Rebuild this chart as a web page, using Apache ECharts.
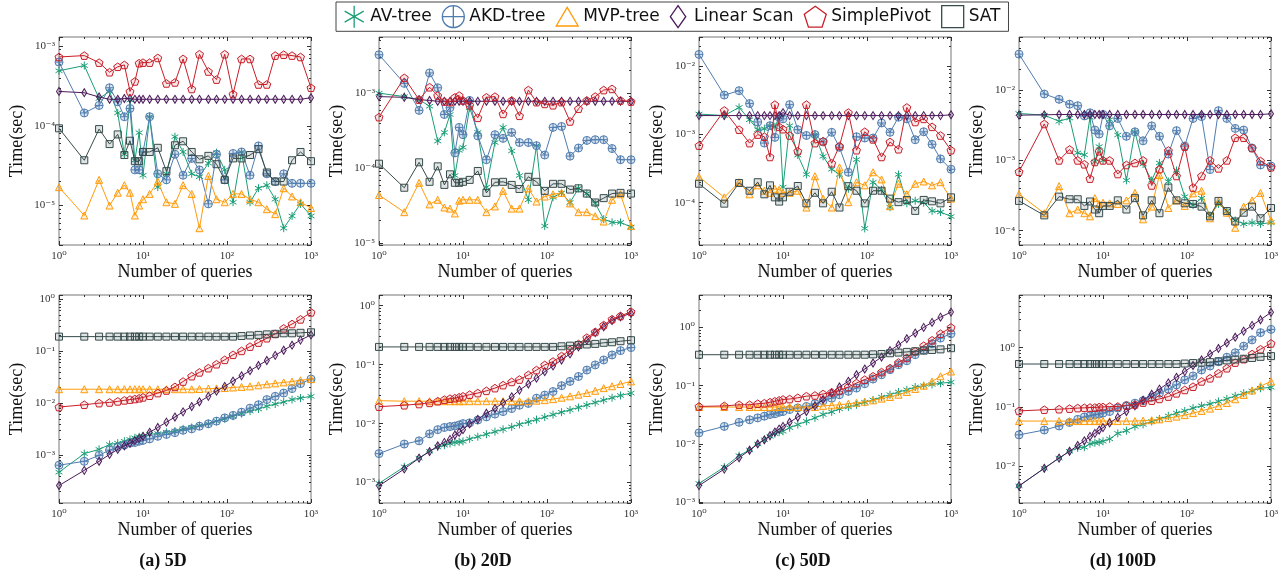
<!DOCTYPE html>
<html>
<head>
<meta charset="utf-8">
<script src="https://cdn.jsdelivr.net/npm/echarts@6/dist/echarts.min.js"></script>
<style>
html, body { margin: 0; padding: 0; background: #fff; }
#chart { width: 1285px; height: 575px; }
</style>
</head>
<body>
<div id="chart"></div>
<script>
// number of queries (x of every panel)
var queries = [1,2,3,4,5,6,7,8,9,10, 12,15,19,24,30,38,47,60,75,94, 118,149,188,237,298,375,473,595,750,1000];

// ---- top row: time per query (sec) ----
// 5D
var q5_av  = [4.9e-4,5.7e-4,2.2e-4,2.7e-4,1.45e-4,4.4e-5,2.1e-4,3.7e-5,8.2e-5,2.4e-5, 1.3e-4,1.7e-5,2.5e-5,7.3e-5,4.7e-5,2.5e-5,2.3e-5,3.4e-5,4.6e-5,2.8e-5, 1.1e-5,4.7e-5,1.1e-5,1.65e-5,1.8e-5,1.2e-5,5.2e-6,7.4e-6,1.05e-5,7.4e-6];
var q5_akd = [6.3e-4,1.45e-4,1.8e-4,3.0e-4,2.0e-4,1.3e-4,1.65e-4,2.8e-5,2.8e-5,4.7e-5, 1.3e-4,2.5e-5,2.1e-5,4.4e-5,2.4e-5,3.9e-5,2.8e-5,1.05e-5,4.4e-5,2.1e-5, 4.5e-5,4.7e-5,2.4e-5,5.6e-5,2.5e-5,2.0e-5,2.5e-5,1.9e-5,1.9e-5,1.9e-5];
var q5_mvp = [1.7e-5,7.5e-6,2.1e-5,1.0e-5,1.45e-5,1.8e-5,1.45e-5,7.5e-6,1.0e-5,1.2e-5, 1.4e-5,2.0e-5,1.1e-5,1.05e-5,1.8e-5,1.4e-5,5.2e-6,2.35e-5,1.2e-5,1.1e-5, 1.4e-5,1.4e-5,1.2e-5,1.1e-5,9.0e-6,7.8e-6,1.65e-5,1.3e-5,1.1e-5,9.3e-6];
var q5_lin = [2.7e-4,2.6e-4,2.3e-4,2.15e-4,2.15e-4,2.2e-4,2.2e-4,2.15e-4,2.15e-4,2.15e-4, 2.15e-4,2.15e-4,2.15e-4,2.15e-4,2.15e-4,2.15e-4,2.15e-4,2.15e-4,2.15e-4,2.15e-4, 2.15e-4,2.15e-4,2.15e-4,2.15e-4,2.15e-4,2.15e-4,2.15e-4,2.15e-4,2.15e-4,2.25e-4];
var q5_sp  = [7.3e-4,7.6e-4,6.2e-4,4.7e-4,5.5e-4,5.8e-4,2.7e-4,3.6e-4,6.1e-4,6.2e-4, 6.2e-4,7.1e-4,3.4e-4,3.5e-4,6.9e-4,2.9e-4,7.9e-4,4.8e-4,3.8e-4,7.9e-4, 2.5e-4,6.9e-4,6.9e-4,3.3e-4,3.3e-4,7.6e-4,7.8e-4,7.6e-4,7.3e-4,3.0e-4];
var q5_sat = [9.3e-5,3.7e-5,9.1e-5,5.9e-5,7.8e-5,4.3e-5,6.5e-5,3.6e-5,3.6e-5,4.7e-5, 4.7e-5,5.3e-5,2.7e-5,5.7e-5,6.4e-5,4.7e-5,3.8e-5,4.2e-5,3.3e-5,2.1e-5, 3.9e-5,3.9e-5,4.3e-5,5.1e-5,2.6e-5,2.0e-5,2.0e-5,3.7e-5,4.7e-5,3.6e-5];
// 20D
var q20_av  = [1.0e-3,9.0e-4,8.2e-4,6.7e-4,2.3e-4,3.0e-4,5.2e-4,8.0e-5,1.73e-4,1.9e-4, 6.4e-4,3.0e-4,5.6e-5,2.2e-4,3.5e-4,1.7e-4,8.0e-5,3.8e-5,2.0e-4,1.7e-5, 4.1e-5,4.7e-5,3.5e-5,5.4e-5,4.6e-5,3.4e-5,2.1e-5,1.9e-5,1.9e-5,1.65e-5];
var q20_akd = [3.25e-3,1.35e-3,5.9e-4,1.86e-3,1.18e-3,5.2e-4,6.4e-4,1.6e-4,3.5e-4,2.8e-4, 8.0e-4,2.7e-4,1.3e-4,2.8e-4,2.5e-4,3.0e-4,2.2e-4,2.2e-4,2.0e-4,1.5e-4, 3.5e-4,3.6e-4,1.45e-4,1.86e-4,2.35e-4,2.4e-4,2.4e-4,1.83e-4,1.3e-4,1.3e-4];
var q20_mvp = [4.4e-5,2.6e-5,6.4e-5,3.3e-5,3.8e-5,3.0e-5,2.9e-5,2.5e-5,3.7e-5,3.8e-5, 3.8e-5,3.8e-5,2.6e-5,3.1e-5,5.0e-5,2.9e-5,2.9e-5,5.4e-5,3.6e-5,4.2e-5, 4.5e-5,4.7e-5,3.4e-5,2.6e-5,2.6e-5,2.3e-5,1.95e-5,3.8e-5,4.5e-5,1.7e-5];
var q20_lin = [9.0e-4,8.8e-4,8.2e-4,8.0e-4,7.8e-4,7.8e-4,7.8e-4,7.8e-4,7.8e-4,7.8e-4, 7.8e-4,7.8e-4,7.8e-4,7.8e-4,7.8e-4,7.8e-4,7.8e-4,7.8e-4,7.8e-4,7.8e-4, 7.8e-4,7.8e-4,7.8e-4,7.8e-4,7.8e-4,7.8e-4,7.8e-4,7.8e-4,7.8e-4,7.75e-4];
var q20_sp  = [4.8e-4,1.6e-3,8.2e-4,1.2e-3,9.3e-4,7.75e-4,7.6e-4,8.8e-4,9.3e-4,8.0e-4, 6.9e-4,4.7e-4,8.8e-4,9.0e-4,5.3e-4,8.0e-4,5.0e-4,1.1e-3,7.6e-4,7.2e-4, 6.9e-4,7.6e-4,4.2e-4,6.2e-4,8.0e-4,9.0e-4,1.1e-3,1.14e-3,8.0e-4,7.75e-4];
var q20_sat = [1.15e-4,5.5e-5,1.2e-4,6.6e-5,1.06e-4,6.0e-5,8.3e-5,6.4e-5,6.4e-5,6.6e-5, 7.0e-5,9.2e-5,4.7e-5,6.5e-5,6.6e-5,6.0e-5,5.3e-5,7.7e-5,6.6e-5,5.0e-5, 6.2e-5,6.2e-5,5.2e-5,5.4e-5,4.6e-5,3.5e-5,4.0e-5,4.6e-5,4.7e-5,4.6e-5];
// 50D
var q50_av  = [2.0e-3,1.9e-3,2.5e-3,1.65e-3,1.18e-3,1.22e-3,1.35e-3,1.3e-3,1.8e-3,1.7e-4, 1.35e-3,5.0e-4,2.6e-4,1.0e-3,4.8e-4,3.1e-4,2.6e-4,1.6e-4,4.3e-4,4.2e-5, 2.0e-4,1.55e-4,8.6e-5,2.6e-4,9.8e-5,1.07e-4,1.0e-4,7.6e-5,7.3e-5,6.3e-5];
var q50_akd = [1.5e-2,3.8e-3,4.4e-3,2.85e-3,1.53e-3,7.5e-4,1.35e-3,9.1e-4,1.8e-3,1.7e-3, 2.75e-3,1.18e-3,9.7e-4,1.0e-3,7.8e-4,1.08e-3,6.5e-4,2.8e-4,9.3e-4,8.9e-4, 8.9e-4,1.48e-3,1.08e-3,1.8e-3,1.7e-3,8.4e-4,1.1e-3,7.2e-4,4.4e-4,3.1e-4];
var q50_mvp = [2.4e-4,1.2e-4,2.0e-4,1.33e-4,1.8e-4,1.5e-4,1.4e-4,1.6e-4,1.55e-4,1.4e-4, 1.4e-4,1.5e-4,8.5e-5,2.45e-4,1.15e-4,8.5e-5,3.3e-4,1.02e-4,2.0e-4,1.8e-4, 2.8e-4,2.2e-4,8.9e-5,1.9e-4,1.33e-4,1.9e-4,2.05e-4,1.8e-4,2.0e-4,1.15e-4];
var q50_lin = [1.9e-3,1.9e-3,1.9e-3,1.9e-3,1.9e-3,1.9e-3,1.9e-3,1.9e-3,1.9e-3,2.1e-3, 1.9e-3,1.9e-3,1.9e-3,1.9e-3,1.9e-3,1.9e-3,1.9e-3,1.9e-3,1.9e-3,1.9e-3, 1.9e-3,1.9e-3,1.9e-3,1.9e-3,1.9e-3,1.9e-3,1.9e-3,1.9e-3,1.9e-3,1.95e-3];
var q50_sp  = [6.9e-4,2.26e-3,1.18e-3,7.5e-4,1.0e-3,9.3e-4,4.7e-4,2.75e-3,1.3e-3,1.2e-3, 9.7e-4,5.7e-4,2.75e-3,7.5e-4,8.0e-4,3.8e-4,6.8e-4,2.1e-3,5.9e-4,1.1e-3, 8.5e-4,4.7e-4,7.8e-4,6.1e-4,2.5e-3,1.53e-3,1.7e-3,1.3e-3,9.7e-4,5.9e-4];
var q50_sat = [1.9e-4,9.7e-5,1.95e-4,1.5e-4,2.0e-4,1.33e-4,1.8e-4,1.2e-4,1.04e-4,1.2e-4, 1.45e-4,1.76e-4,9.8e-5,1.4e-4,9.8e-5,1.45e-4,8.5e-5,1.75e-4,1.5e-4,9.8e-5, 1.5e-4,1.5e-4,1.15e-4,1.02e-4,1.1e-4,7.6e-5,1.1e-4,1.05e-4,9.8e-5,1.2e-4];
// 100D
var q100_av  = [4.65e-3,4.4e-3,3.6e-3,4.0e-3,1.28e-3,1.2e-3,4.1e-3,9.5e-4,1.57e-3,1.0e-3, 3.8e-3,2.3e-3,5.2e-4,2.55e-3,8.9e-4,5.2e-4,9.2e-4,5.0e-4,7.2e-4,3.05e-4, 2.3e-4,2.9e-4,1.65e-4,2.4e-4,1.9e-4,1.4e-4,1.25e-4,1.3e-4,1.25e-4,1.3e-4];
var q100_akd = [3.25e-2,8.8e-3,7.4e-3,6.3e-3,6.0e-3,4.3e-3,4.75e-3,2.7e-3,2.37e-3,4.5e-3, 3.1e-3,3.95e-3,2.2e-3,2.55e-3,1.9e-3,3.1e-3,2.2e-3,1.23e-3,2.65e-3,1.6e-3, 3.95e-3,4.2e-3,7.4e-4,5.1e-3,3.95e-3,2.85e-3,2.7e-3,1.5e-3,8.6e-4,8.3e-4];
var q100_mvp = [3.3e-4,1.77e-4,4.3e-4,1.77e-4,2.0e-4,1.77e-4,1.6e-4,2.9e-4,2.4e-4,2.5e-4, 2.45e-4,2.4e-4,2.7e-4,3.45e-4,1.45e-4,2.2e-4,6.2e-4,2.1e-4,2.7e-4,2.25e-4, 3.4e-4,3.7e-4,1.5e-4,2.6e-4,1.8e-4,1.1e-4,2.2e-4,2.7e-4,3.45e-4,1.4e-4];
var q100_lin = [4.4e-3,4.45e-3,4.5e-3,4.5e-3,4.5e-3,4.5e-3,4.5e-3,4.5e-3,4.5e-3,4.5e-3, 4.5e-3,4.5e-3,4.5e-3,4.5e-3,4.5e-3,4.5e-3,4.5e-3,4.5e-3,4.5e-3,4.5e-3, 4.5e-3,4.5e-3,4.5e-3,4.5e-3,4.5e-3,4.5e-3,4.5e-3,4.5e-3,4.5e-3,4.6e-3];
var q100_sp  = [6.9e-4,3.3e-3,1.0e-3,1.43e-3,1.0e-3,8.8e-4,5.5e-4,9.5e-4,1.35e-3,1.0e-3, 1.0e-3,6.4e-4,8.6e-4,9.2e-4,1.0e-3,4.4e-4,7.5e-4,1.38e-3,6.0e-4,1.57e-3, 4.1e-4,6.0e-4,1.0e-3,7.7e-4,1.0e-3,2.1e-3,2.1e-3,1.5e-3,9.8e-4,8.0e-4];
var q100_sat = [2.65e-4,1.65e-4,3.05e-4,2.8e-4,2.8e-4,2.25e-4,2.6e-4,2.0e-4,1.77e-4,2.25e-4, 2.25e-4,2.7e-4,2.0e-4,2.9e-4,1.65e-4,2.7e-4,1.77e-4,4.1e-4,2.7e-4,2.45e-4, 2.4e-4,2.2e-4,1.6e-4,2.65e-4,1.9e-4,1.35e-4,1.8e-4,2.2e-4,1.5e-4,2.1e-4];

// ---- bottom row: total time (sec) ----
var t5_av  = [4.7e-4,1.07e-3,1.29e-3,1.6e-3,1.7e-3,1.85e-3,2.0e-3,2.15e-3,2.25e-3,2.3e-3, 2.5e-3,2.6e-3,2.75e-3,2.9e-3,3.2e-3,3.4e-3,3.7e-3,4.0e-3,4.5e-3,5.0e-3, 5.6e-3,6.3e-3,7.0e-3,7.7e-3,8.7e-3,9.6e-3,1.05e-2,1.17e-2,1.25e-2,1.35e-2];
var t5_akd = [6.4e-4,7.6e-4,9.9e-4,1.25e-3,1.43e-3,1.56e-3,1.7e-3,1.75e-3,1.85e-3,1.92e-3, 2.05e-3,2.3e-3,2.5e-3,2.7e-3,3.0e-3,3.2e-3,3.6e-3,4.0e-3,4.5e-3,5.2e-3, 5.8e-3,6.7e-3,8.0e-3,9.3e-3,1.17e-2,1.35e-2,1.56e-2,1.9e-2,2.37e-2,2.9e-2];
var t5_mvp = [1.85e-2,1.85e-2,1.85e-2,1.85e-2,1.85e-2,1.85e-2,1.85e-2,1.85e-2,1.85e-2,1.85e-2, 1.85e-2,1.85e-2,1.85e-2,1.85e-2,1.85e-2,1.85e-2,1.87e-2,1.9e-2,1.92e-2,1.95e-2, 2.0e-2,2.05e-2,2.1e-2,2.2e-2,2.3e-2,2.4e-2,2.5e-2,2.6e-2,2.75e-2,2.9e-2];
var t5_lin = [2.6e-4,5.1e-4,7.6e-4,1.03e-3,1.29e-3,1.5e-3,1.7e-3,1.9e-3,2.1e-3,2.3e-3, 2.75e-3,3.4e-3,4.3e-3,5.4e-3,6.8e-3,8.6e-3,1.06e-2,1.35e-2,1.7e-2,2.1e-2, 2.65e-2,3.35e-2,4.2e-2,5.3e-2,6.6e-2,8.3e-2,0.104,0.13,0.163,0.205];
var t5_sp  = [8.4e-3,9.3e-3,1.0e-2,1.03e-2,1.08e-2,1.13e-2,1.17e-2,1.2e-2,1.24e-2,1.29e-2, 1.39e-2,1.56e-2,1.75e-2,2.05e-2,2.6e-2,3.3e-2,3.9e-2,4.7e-2,5.6e-2,6.8e-2, 8.5e-2,0.101,0.122,0.146,0.177,0.214,0.274,0.332,0.408,0.556];
var t5_sat = [0.19,0.19,0.19,0.19,0.19,0.19,0.19,0.19,0.19,0.19, 0.19,0.19,0.19,0.19,0.19,0.19,0.19,0.19,0.19,0.19, 0.19,0.195,0.2,0.205,0.21,0.215,0.22,0.22,0.225,0.23];

var t20_av  = [9.7e-4,1.85e-3,2.6e-3,3.4e-3,4.0e-3,4.3e-3,4.6e-3,4.8e-3,4.9e-3,5.0e-3, 5.5e-3,6.0e-3,6.6e-3,7.3e-3,8.0e-3,8.8e-3,9.7e-3,1.07e-2,1.17e-2,1.29e-2, 1.42e-2,1.56e-2,1.71e-2,1.88e-2,2.07e-2,2.28e-2,2.5e-2,2.75e-2,3.0e-2,3.3e-2];
var t20_akd = [3.1e-3,4.5e-3,5.1e-3,6.7e-3,7.9e-3,8.6e-3,8.9e-3,9.1e-3,9.5e-3,1.0e-2, 1.03e-2,1.15e-2,1.3e-2,1.45e-2,1.6e-2,1.8e-2,2.05e-2,2.2e-2,2.7e-2,3.05e-2, 3.5e-2,4.4e-2,5.2e-2,6.3e-2,8.1e-2,9.9e-2,0.12,0.146,0.173,0.195];
var t20_mvp = [2.45e-2,2.4e-2,2.4e-2,2.4e-2,2.4e-2,2.4e-2,2.4e-2,2.4e-2,2.4e-2,2.4e-2, 2.4e-2,2.4e-2,2.4e-2,2.4e-2,2.4e-2,2.4e-2,2.4e-2,2.4e-2,2.45e-2,2.5e-2, 2.6e-2,2.75e-2,2.9e-2,3.1e-2,3.3e-2,3.6e-2,4.0e-2,4.3e-2,4.7e-2,5.2e-2];
var t20_lin = [8.8e-4,1.7e-3,2.6e-3,3.35e-3,4.2e-3,4.8e-3,5.4e-3,6.4e-3,7.1e-3,7.9e-3, 9.9e-3,1.18e-2,1.5e-2,1.8e-2,2.25e-2,2.85e-2,3.7e-2,4.7e-2,5.9e-2,7.6e-2, 9.5e-2,0.12,0.152,0.2,0.26,0.35,0.44,0.56,0.65,0.74];
var t20_sp  = [1.94e-2,2.05e-2,2.15e-2,2.25e-2,2.4e-2,2.55e-2,2.65e-2,2.7e-2,2.8e-2,2.9e-2, 3.1e-2,3.3e-2,3.6e-2,4.0e-2,4.5e-2,5.1e-2,5.6e-2,6.7e-2,8.1e-2,9.9e-2, 0.113,0.14,0.177,0.224,0.287,0.36,0.47,0.59,0.67,0.79];
var t20_sat = [0.2,0.2,0.2,0.2,0.2,0.2,0.2,0.2,0.2,0.2, 0.2,0.2,0.2,0.2,0.2,0.2,0.2,0.2,0.2,0.2, 0.2,0.205,0.21,0.215,0.22,0.225,0.235,0.24,0.25,0.26];

var t50_av  = [2.1e-3,4.0e-3,6.3e-3,7.9e-3,1.0e-2,1.18e-2,1.35e-2,1.5e-2,1.6e-2,1.65e-2, 1.9e-2,2.15e-2,2.45e-2,2.8e-2,3.2e-2,3.55e-2,4.0e-2,4.3e-2,4.7e-2,5.2e-2, 5.7e-2,6.4e-2,7.0e-2,7.8e-2,8.5e-2,9.5e-2,0.1,0.105,0.11,0.115];
var t50_akd = [1.55e-2,2.0e-2,2.35e-2,2.6e-2,2.8e-2,3.0e-2,3.2e-2,3.3e-2,3.5e-2,3.6e-2, 3.9e-2,4.15e-2,4.4e-2,4.9e-2,5.5e-2,6.1e-2,7.0e-2,8.0e-2,9.1e-2,0.108, 0.13,0.154,0.188,0.229,0.268,0.34,0.41,0.525,0.656,0.78];
var t50_mvp = [4.3e-2,4.3e-2,4.3e-2,4.3e-2,4.3e-2,4.3e-2,4.3e-2,4.3e-2,4.3e-2,4.3e-2, 4.3e-2,4.3e-2,4.3e-2,4.3e-2,4.5e-2,4.6e-2,4.7e-2,4.9e-2,5.1e-2,5.3e-2, 5.6e-2,6.0e-2,6.4e-2,7.0e-2,7.8e-2,8.8e-2,0.1,0.118,0.145,0.175];
var t50_lin = [1.93e-3,3.7e-3,5.8e-3,7.8e-3,1.0e-2,1.18e-2,1.39e-2,1.6e-2,1.8e-2,2.0e-2, 2.36e-2,2.9e-2,3.6e-2,4.5e-2,5.8e-2,7.5e-2,9.5e-2,0.119,0.154,0.193, 0.245,0.31,0.4,0.5,0.64,0.8,1.0,1.22,1.5,1.83];
var t50_sp  = [4.4e-2,4.5e-2,4.7e-2,4.7e-2,4.9e-2,5.0e-2,5.2e-2,5.4e-2,5.6e-2,5.8e-2, 5.9e-2,6.2e-2,6.6e-2,6.8e-2,7.2e-2,7.7e-2,8.3e-2,9.5e-2,0.111,0.127, 0.145,0.171,0.2,0.25,0.3,0.39,0.485,0.6,0.78,1.0];
var t50_sat = [0.34,0.34,0.34,0.34,0.34,0.34,0.34,0.34,0.34,0.34, 0.34,0.34,0.34,0.34,0.34,0.34,0.34,0.34,0.34,0.34, 0.345,0.35,0.36,0.37,0.38,0.39,0.4,0.41,0.42,0.44];

var t100_av  = [4.7e-3,9.3e-3,1.38e-2,1.8e-2,2.05e-2,2.1e-2,2.4e-2,2.5e-2,2.55e-2,2.65e-2, 2.9e-2,3.6e-2,4.0e-2,4.7e-2,5.1e-2,5.7e-2,6.3e-2,7.1e-2,7.9e-2,8.6e-2, 9.6e-2,0.105,0.113,0.124,0.137,0.154,0.171,0.187,0.207,0.215];
var t100_akd = [3.4e-2,4.1e-2,4.8e-2,5.5e-2,6.2e-2,6.8e-2,7.1e-2,7.4e-2,7.6e-2,7.9e-2, 8.4e-2,9.6e-2,0.106,0.116,0.128,0.146,0.171,0.2,0.236,0.286, 0.334,0.42,0.49,0.58,0.69,0.82,1.06,1.35,1.79,2.03];
var t100_mvp = [5.8e-2,5.8e-2,5.8e-2,5.8e-2,5.8e-2,5.8e-2,5.8e-2,5.8e-2,5.8e-2,5.8e-2, 5.8e-2,5.8e-2,5.8e-2,5.8e-2,5.9e-2,6.0e-2,6.2e-2,6.5e-2,6.9e-2,7.3e-2, 7.9e-2,8.6e-2,9.4e-2,0.104,0.117,0.135,0.16,0.19,0.225,0.27];
var t100_lin = [4.7e-3,9.3e-3,1.38e-2,1.8e-2,2.25e-2,2.7e-2,3.2e-2,3.6e-2,4.1e-2,4.5e-2, 5.4e-2,6.7e-2,8.4e-2,0.105,0.13,0.164,0.2,0.255,0.317,0.395, 0.5,0.62,0.78,0.97,1.2,1.5,1.9,2.37,2.95,3.93];
var t100_sp  = [8.6e-2,9.0e-2,9.2e-2,9.4e-2,9.6e-2,9.7e-2,9.8e-2,9.8e-2,0.1,0.1, 0.102,0.102,0.106,0.11,0.119,0.128,0.137,0.15,0.17,0.194, 0.22,0.27,0.305,0.37,0.45,0.56,0.64,0.78,0.94,1.18];
var t100_sat = [0.53,0.53,0.53,0.53,0.53,0.53,0.53,0.53,0.53,0.53, 0.53,0.53,0.53,0.53,0.53,0.53,0.53,0.53,0.53,0.54, 0.55,0.56,0.57,0.59,0.61,0.63,0.65,0.67,0.7,0.72];

var captions = ['(a) 5D', '(b) 20D', '(c) 50D', '(d) 100D'];
var names  = ['AV-tree', 'AKD-tree', 'MVP-tree', 'Linear Scan', 'SimplePivot', 'SAT'];
var colors = ['#1b9e77', '#507daf', '#ff9b0a', '#4b195a', '#c81e28', '#374b4b'];
var fills  = ['rgba(27,158,119,0.15)', 'rgba(80,125,175,0.2)', 'rgba(255,155,10,0.15)', 'rgba(75,25,90,0.15)', 'rgba(200,30,40,0.1)', 'rgba(55,75,75,0.15)'];

var STAR = 'path://M0,-10L0,10M-8.66,-5L8.66,5M-8.66,5L8.66,-5';
var OPLUS = 'path://M10,0A10,10,0,1,1,-10,0A10,10,0,1,1,10,0ZM-10,0L10,0M0,-10L0,10';
var PENTA = 'path://M0,-10L9.51,-3.09L5.88,8.09L-5.88,8.09L-9.51,-3.09Z';
var symbols = [STAR, OPLUS, 'triangle', 'diamond', PENTA, 'rect'];
var symSizes = [8, 8, 7, [5, 8], 8, 7];
var legendIcons = [STAR, OPLUS, 'path://M0,-9L10,8L-10,8Z', 'path://M0,-10L7,0L0,10L-7,0Z', PENTA, 'path://M-9,-9L9,-9L9,9L-9,9Z'];

// panels: row 0 = per query, row 1 = total
var panels = [
    { row: 0, col: 0, sets: [q5_av, q5_akd, q5_mvp, q5_lin, q5_sp, q5_sat], min: 3.2e-6, max: 1.3e-3 },
    { row: 0, col: 1, sets: [q20_av, q20_akd, q20_mvp, q20_lin, q20_sp, q20_sat], min: 9.5e-6, max: 5.6e-3 },
    { row: 0, col: 2, sets: [q50_av, q50_akd, q50_mvp, q50_lin, q50_sp, q50_sat], min: 2.4e-5, max: 2.7e-2 },
    { row: 0, col: 3, sets: [q100_av, q100_akd, q100_mvp, q100_lin, q100_sp, q100_sat], min: 6.25e-5, max: 5.7e-2 },
    { row: 1, col: 0, sets: [t5_av, t5_akd, t5_mvp, t5_lin, t5_sp, t5_sat], min: 1.2e-4, max: 1.2 },
    { row: 1, col: 1, sets: [t20_av, t20_akd, t20_mvp, t20_lin, t20_sp, t20_sat], min: 4.5e-4, max: 1.52 },
    { row: 1, col: 2, sets: [t50_av, t50_akd, t50_mvp, t50_lin, t50_sp, t50_sat], min: 9.7e-4, max: 3.6 },
    { row: 1, col: 3, sets: [t100_av, t100_akd, t100_mvp, t100_lin, t100_sp, t100_sat], min: 2.42e-3, max: 7.7 }
];

var SERIF = '"Liberation Serif", "DejaVu Serif", serif';
var sup = { '-': '\u207B', '0': '\u2070', '1': '\u00B9', '2': '\u00B2', '3': '\u00B3', '4': '\u2074',
            '5': '\u2075', '6': '\u2076', '7': '\u2077', '8': '\u2078', '9': '\u2079' };
function powLabel(v) {
    var e = Math.log10(v), r = Math.round(e);
    if (Math.abs(e - r) > 1e-6) return '';
    return '10' + String(r).split('').map(function (ch) { return sup[ch]; }).join('');
}

function makeAxis(dim, gi, pos, main, min, max) {
    var a = {
        gridIndex: gi, type: 'log', logBase: 10, min: min, max: max, position: pos,
        axisLine: { show: false },
        axisTick: { show: true, inside: true, length: 4, lineStyle: { color: '#333', width: 1 } },
        minorTick: { show: true, splitNumber: 9, length: 2, lineStyle: { color: '#333', width: 1 } },
        splitLine: { show: false },
        minorSplitLine: { show: false },
        axisLabel: { show: main, formatter: powLabel, fontFamily: SERIF, fontSize: 11, color: '#333', margin: dim === 'x' ? 6 : 4 },
        silent: true
    };
    if (main) {
        a.name = dim === 'x' ? 'Number of queries' : 'Time(sec)';
        a.nameLocation = 'middle';
        a.nameGap = dim === 'x' ? 18 : 33;
        a.nameTextStyle = { fontFamily: SERIF, fontSize: 18, color: '#111' };
    }
    return a;
}

var lefts = [59, 379, 699, 1019], tops = [37, 295];
var grids = [], xAxes = [], yAxes = [], series = [];
panels.forEach(function (p, i) {
    grids.push({ left: lefts[p.col], top: tops[p.row], width: 252, height: 208,
                 show: true, borderColor: '#777', borderWidth: 1, backgroundColor: 'transparent' });
    xAxes.push(makeAxis('x', i, 'bottom', true, 1, 1000));
    xAxes.push(makeAxis('x', i, 'top', false, 1, 1000));
    yAxes.push(makeAxis('y', i, 'left', true, p.min, p.max));
    yAxes.push(makeAxis('y', i, 'right', false, p.min, p.max));
    p.sets.forEach(function (vals, k) {
        series.push({
            type: 'line', name: names[k],
            xAxisIndex: 2 * i, yAxisIndex: 2 * i,
            data: queries.map(function (q, j) { return [q, vals[j]]; }),
            symbol: symbols[k], symbolSize: symSizes[k], symbolKeepAspect: true,
            showSymbol: true, clip: false,
            lineStyle: { color: colors[k], width: 1 },
            itemStyle: { color: fills[k], borderColor: colors[k], borderWidth: 1 },
            emphasis: { disabled: true },
            z: 2 + k
        });
    });
});

var chart = echarts.init(document.getElementById('chart'), null, { renderer: 'canvas' });
chart.setOption({
    animation: false,
    backgroundColor: '#fff',
    legend: {
        top: 2, left: 336,
        itemWidth: 22, itemHeight: 22, itemGap: 10,
        padding: [3, 8],
        borderColor: '#444', borderWidth: 1,
        selectedMode: false,
        textStyle: { fontFamily: '"DejaVu Sans", sans-serif', fontSize: 17, color: '#111' },
        data: names.map(function (n, k) {
            return { name: n, icon: legendIcons[k],
                     itemStyle: { color: 'rgba(255,255,255,0)', borderColor: colors[k], borderWidth: 1.3 } };
        })
    },
    grid: grids,
    xAxis: xAxes,
    yAxis: yAxes,
    series: series,
    graphic: captions.map(function (t, c) {
        return { type: 'text', x: 163 + 320 * c, y: 561,
                 style: { text: t, font: 'bold 18px "Liberation Serif", serif', fill: '#111',
                          textAlign: 'center', textVerticalAlign: 'middle', align: 'center', verticalAlign: 'middle' } };
    })
});

window.addEventListener('resize', function () { chart.resize(); });
</script>
</body>
</html>
